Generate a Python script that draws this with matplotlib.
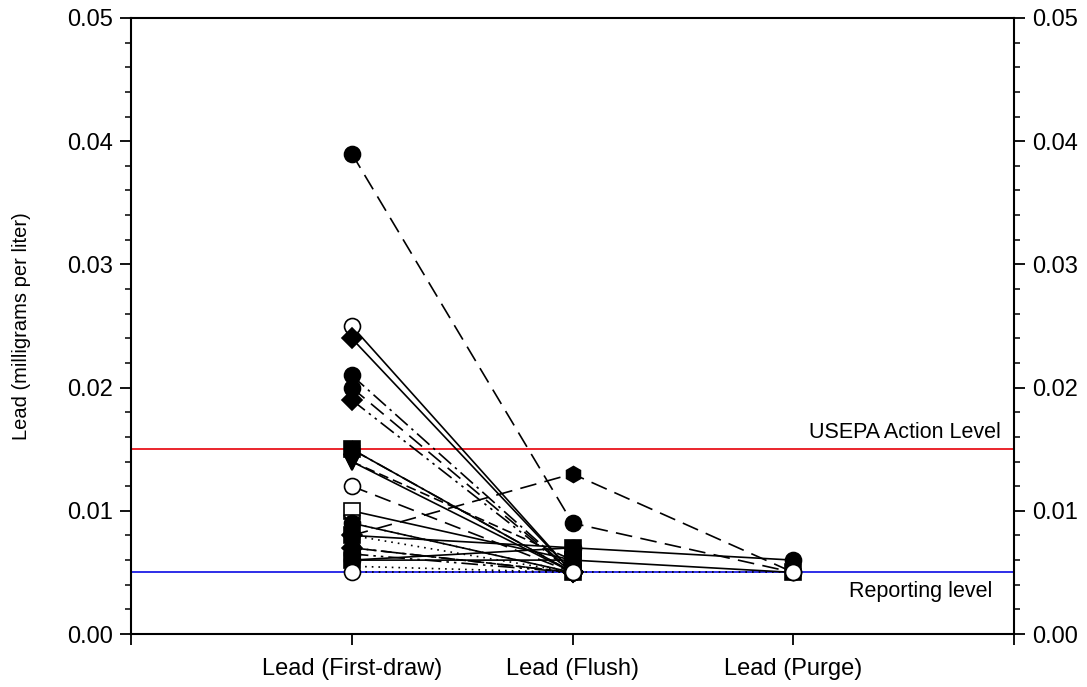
import numpy as np
import matplotlib.pyplot as plt
from matplotlib.ticker import MultipleLocator

plt.rcParams['font.family'] = ['Liberation Sans', 'DejaVu Sans']

# sampling stages
categories = ['Lead (First-draw)', 'Lead (Flush)', 'Lead (Purge)']

# lead concentration per well, mg/L (nan = not sampled)
first_draw = [0.039, 0.025, 0.024, 0.021, 0.020, 0.019, 0.015, 0.015, 0.014, 0.014,
              0.012, 0.010, 0.009, 0.009, 0.008, 0.008, 0.008, 0.007, 0.007, 0.0065,
              0.006, 0.006, 0.0055, 0.005]
flush = [0.009, 0.005, 0.005, 0.005, 0.005, 0.005, 0.005, 0.005, 0.005, 0.006,
         0.005, 0.006, 0.005, 0.005, 0.013, 0.005, 0.007, 0.005, 0.005, 0.005,
         0.007, 0.006, 0.005, 0.005]
purge = [0.005, np.nan, np.nan, np.nan, np.nan, np.nan, np.nan, np.nan, np.nan, np.nan,
         np.nan, np.nan, np.nan, np.nan, 0.005, np.nan, np.nan, np.nan, np.nan, np.nan,
         0.006, 0.005, np.nan, 0.005]

action_level = 0.015
reporting_level = 0.005

# marker / fill / line style per well
markers = ['o', 'o', 'D', 'o', 'o', 'D', 's', 'h', 'v', 'v',
           'o', 's', 'v', 'o', 'h', 'D', 's', 'o', 'D', 'o',
           'o', 's', 'h', 'o']
filled = [True, False, True, True, True, True, True, True, False, True,
          False, False, False, True, True, True, True, True, True, True,
          True, True, True, False]
dash_long = (0, (10, 5))
dash_dot = (0, (10, 3, 1.5, 3))
dash_dotdot = (0, (10, 3, 1.5, 3, 1.5, 3))
dotted = (0, (1, 3))
dash_short = (0, (6, 3))
styles = [dash_long, '-', '-', dash_dot, dash_long, dash_dotdot, '-', dash_dot, '-', dash_short,
          dash_long, '-', '-', dotted, dash_long, dotted, '-', dash_dot, dash_short, dash_dotdot,
          '-', '-', dotted, dotted]

x = np.arange(1, len(categories) + 1)

fig = plt.figure(figsize=(10.87, 6.87), dpi=100)
ax = fig.add_axes([0.1205, 0.0771, 0.8124, 0.8967])

ax.axhline(action_level, color='#e8141b', lw=1.3, zorder=1)
ax.axhline(reporting_level, color='#1c1ce6', lw=1.3, zorder=1)

for i in range(len(first_draw)):
  y = [first_draw[i], flush[i], purge[i]]
  ax.plot(x, y, linestyle=styles[i], color='black', lw=1.2,
          marker=markers[i], markersize=11.5 if markers[i] != 'D' else 10,
          markerfacecolor='black' if filled[i] else 'white',
          markeredgecolor='black', markeredgewidth=1.2, zorder=3)

ax.text(3.94, 0.0155, 'USEPA Action Level', ha='right', va='bottom', fontsize=15.5)
ax.text(3.9, 0.0043, 'Reporting level', ha='right', va='top', fontsize=15.5)

ax.set_xlim(0, 4)
ax.set_ylim(0, 0.05)
ax.set_xticks([0, 1, 2, 3, 4])
ax.set_xticklabels([''] + categories + [''])
ax.yaxis.set_major_locator(MultipleLocator(0.01))
ax.yaxis.set_minor_locator(MultipleLocator(0.002))
ax.yaxis.set_major_formatter(plt.FormatStrFormatter('%.2f'))
ax.tick_params(axis='both', which='major', direction='out', length=8, width=1.3,
               labelsize=17, pad=5)
ax.tick_params(axis='y', which='minor', direction='out', length=4, width=1.1)
ax.tick_params(axis='y', which='both', right=True, labelright=True)
ax.tick_params(axis='x', pad=9)
ax.set_ylabel('Lead (milligrams per liter)', fontsize=14.5, labelpad=26)

for s in ax.spines.values():
  s.set_linewidth(1.5)

fig.savefig('out.png', dpi=100)
